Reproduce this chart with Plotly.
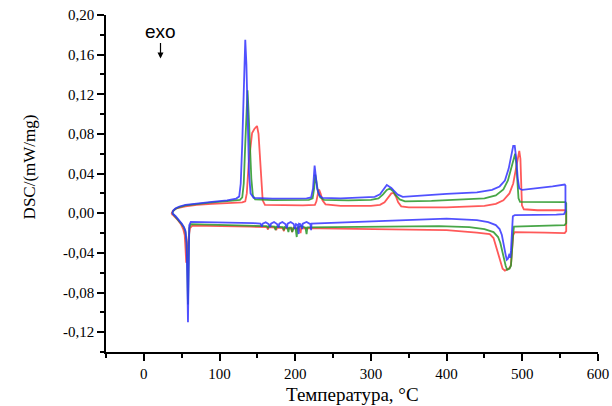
import plotly.graph_objects as go

# DSC heating/cooling loops for three samples (temperature in °C, DSC in mW/mg)
blue_t = [37.5, 39, 42, 47, 55, 70, 90, 110, 122, 126, 128, 130, 132, 134, 135.5, 137, 139, 141, 145,
          170, 200, 215, 221, 223.5, 225.6, 227, 229, 232, 236, 260, 290, 305, 312, 317, 321, 324, 327,
          330, 335, 342, 370, 400, 440, 460, 470, 477, 482, 485, 488, 490, 492, 494, 496, 500, 520, 540,
          556, 557, 557, 555, 545, 520, 490, 487.5, 486.5, 485, 484, 483, 481, 479.5, 478, 476, 473, 470,
          465, 455, 440, 400, 350, 300, 250, 224, 221.5, 221, 220, 215, 210, 209, 207, 205, 204.5, 203.5,
          201, 200, 198, 194, 190, 189, 187, 183, 179, 178, 176, 172, 168, 167, 165, 161, 157, 156, 154,
          145, 120, 90, 70, 62, 60, 59, 58.3, 57.5, 56.5, 55, 53, 50, 46, 42, 39, 37.5]
blue_dsc = [0.000, 0.003, 0.005, 0.0068, 0.0085, 0.010, 0.0115, 0.013, 0.0148, 0.017, 0.03, 0.07, 0.13,
            0.175, 0.15, 0.09, 0.04, 0.02, 0.0155, 0.0148, 0.0147, 0.015, 0.016, 0.025, 0.048, 0.038,
            0.025, 0.018, 0.0155, 0.015, 0.0155, 0.0165, 0.019, 0.025, 0.0285, 0.027, 0.0255, 0.023,
            0.019, 0.0165, 0.018, 0.0195, 0.021, 0.0235, 0.027, 0.033, 0.045, 0.058, 0.068, 0.068, 0.055,
            0.035, 0.025, 0.0235, 0.025, 0.027, 0.029, 0.028, 0.002, -0.001, -0.0015, -0.002, -0.002,
            -0.003, -0.02, -0.038, -0.045, -0.041, -0.046, -0.047, -0.042, -0.033, -0.022, -0.016, -0.012,
            -0.009, -0.007, -0.0055, -0.0068, -0.0088, -0.0098, -0.0105, -0.0105, -0.017, -0.011, -0.0088,
            -0.0105, -0.016, -0.011, -0.0105, -0.021, -0.012, -0.011, -0.016, -0.011, -0.0088, -0.0105,
            -0.015, -0.011, -0.0088, -0.0105, -0.0145, -0.011, -0.0088, -0.0105, -0.014, -0.011, -0.009,
            -0.0105, -0.0135, -0.0105, -0.010, -0.0095, -0.009, -0.0088, -0.0088, -0.012, -0.06, -0.11,
            -0.07, -0.03, -0.018, -0.014, -0.0105, -0.0065, -0.003, -0.001, 0.000]

green_t = [37.5, 39, 42, 47, 55, 70, 90, 110, 127, 130, 132, 134, 135.5, 137, 138.5, 140, 142, 144, 147,
           170, 200, 218, 223, 225, 226.5, 228, 230, 233, 238, 270, 300, 310, 316, 321, 325, 329, 333, 338,
           345, 380, 420, 450, 465, 475, 481, 485, 488, 490.5, 492, 493.5, 495, 497, 520, 557, 558, 558,
           556, 530, 500, 489, 488, 486.5, 485, 483, 480, 478, 475, 471, 468, 462, 450, 430, 390, 300, 230,
           216, 215, 213.5, 208, 203, 202, 200.5, 198, 196, 194.5, 192, 191, 189.5, 186, 185, 183.5, 175,
           174, 172.5, 165, 164, 162.5, 140, 100, 70, 62, 60, 59, 58.3, 57.5, 56.5, 55, 53, 50, 46, 42, 39,
           37.5]
green_dsc = [0.000, 0.0025, 0.0045, 0.0062, 0.008, 0.0095, 0.011, 0.0122, 0.0135, 0.016, 0.03, 0.07,
             0.105, 0.124, 0.10, 0.07, 0.035, 0.018, 0.014, 0.0132, 0.013, 0.0135, 0.015, 0.025, 0.039,
             0.032, 0.022, 0.016, 0.0135, 0.013, 0.0135, 0.015, 0.019, 0.0235, 0.025, 0.0225, 0.018, 0.014,
             0.012, 0.0125, 0.0135, 0.015, 0.018, 0.024, 0.033, 0.045, 0.055, 0.060, 0.05, 0.03, 0.015,
             0.0115, 0.0113, 0.0113, 0.010, -0.010, -0.012, -0.0128, -0.013, -0.0135, -0.02, -0.04, -0.053,
             -0.056, -0.057, -0.053, -0.042, -0.03, -0.024, -0.019, -0.016, -0.014, -0.013, -0.0138,
             -0.0143, -0.0143, -0.021, -0.0145, -0.013, -0.0145, -0.024, -0.0155, -0.0145, -0.019, -0.0145,
             -0.0145, -0.019, -0.0145, -0.014, -0.017, -0.014, -0.0135, -0.017, -0.0135, -0.013, -0.015,
             -0.013, -0.0125, -0.012, -0.011, -0.011, -0.015, -0.05, -0.092, -0.06, -0.03, -0.019, -0.0145,
             -0.011, -0.007, -0.0035, -0.0012, 0.000]

red_t = [36.5, 38, 41, 46, 55, 70, 90, 110, 130, 134, 136, 138.5, 141, 143, 146, 149.5, 151.5, 153, 155,
         157, 160, 180, 210, 226, 228, 230, 231.5, 233.5, 236, 240, 260, 300, 312, 318, 323, 327, 330, 333,
         336, 340, 350, 400, 450, 465, 475, 483, 488, 491, 494, 496, 497.5, 498.5, 499.5, 502, 520, 557,
         558, 558, 556, 530, 500, 490, 488, 486.5, 485, 483.5, 480, 477, 474, 471, 468, 465, 462, 457, 440,
         400, 300, 230, 208, 207, 205.5, 197, 196, 194.5, 186, 185, 183.5, 176, 175, 173.5, 165, 164, 162.5,
         140, 100, 75, 64, 61, 59, 57.5, 56, 55, 54, 52, 49, 45, 41, 38, 36.5]
red_dsc = [-0.001, 0.002, 0.004, 0.0055, 0.007, 0.0085, 0.0095, 0.0105, 0.011, 0.012, 0.02, 0.05, 0.072,
           0.081, 0.085, 0.088, 0.08, 0.06, 0.03, 0.013, 0.0085, 0.008, 0.008, 0.0085, 0.012, 0.02, 0.024,
           0.02, 0.013, 0.009, 0.0075, 0.0075, 0.0085, 0.011, 0.016, 0.020, 0.0205, 0.017, 0.011, 0.007,
           0.006, 0.006, 0.0075, 0.0095, 0.013, 0.02, 0.03, 0.043, 0.058, 0.063, 0.055, 0.03, 0.008, 0.004,
           0.003, 0.003, 0.002, -0.018, -0.020, -0.0195, -0.019, -0.019, -0.022, -0.04, -0.052, -0.055,
           -0.057, -0.058, -0.056, -0.048, -0.04, -0.032, -0.025, -0.021, -0.0195, -0.017, -0.016, -0.015,
           -0.015, -0.02, -0.0155, -0.015, -0.019, -0.0155, -0.015, -0.018, -0.015, -0.0145, -0.017,
           -0.0145, -0.014, -0.0165, -0.014, -0.0135, -0.013, -0.0125, -0.0125, -0.015, -0.025, -0.04,
           -0.05, -0.035, -0.022, -0.016, -0.011, -0.007, -0.0035, -0.0015, -0.001]

y_ticks = [-0.12, -0.08, -0.04, 0.00, 0.04, 0.08, 0.12, 0.16, 0.20]
y_labels = ["-0,12", "-0,08", "-0,04", "0,00", "0,04", "0,08", "0,12", "0,16", "0,20"]
y_minor = [-0.14, -0.10, -0.06, -0.02, 0.02, 0.06, 0.10, 0.14, 0.18]
x_ticks = [0, 100, 200, 300, 400, 500, 600]
x_minor = [-50, 50, 150, 250, 350, 450, 550]

serif = "Liberation Serif, Times New Roman, serif"

fig = go.Figure()
for t, d, col in [(red_t, red_dsc, "rgba(255,60,60,0.85)"),
                  (green_t, green_dsc, "rgba(40,150,40,0.85)"),
                  (blue_t, blue_dsc, "rgba(50,50,255,0.85)")]:
    fig.add_trace(go.Scatter(x=t, y=d, mode="lines", line=dict(color=col, width=1.8),
                             showlegend=False, hoverinfo="skip"))

axis_common = dict(showline=True, linecolor="black", linewidth=1.5, ticks="outside",
                   tickcolor="black", tickwidth=1.5, ticklen=7, showgrid=False, zeroline=False,
                   mirror=False, automargin=False,
                   tickfont=dict(family=serif, size=15, color="black"))

fig.update_xaxes(range=[-50, 600], tickvals=x_ticks, ticktext=[str(v) for v in x_ticks],
                 minor=dict(tickvals=x_minor, ticks="outside", ticklen=4, tickcolor="black", tickwidth=1.5),
                 **axis_common)
fig.update_yaxes(range=[-0.14, 0.20], tickvals=y_ticks, ticktext=y_labels,
                 minor=dict(tickvals=y_minor, ticks="outside", ticklen=4, tickcolor="black", tickwidth=1.5),
                 **axis_common)

# axis titles placed as text annotations in pixel-stable paper coordinates
fig.add_annotation(text="Температура, °C", xref="paper", yref="paper", x=0.5, y=-0.125,
                   showarrow=False, xanchor="center", yanchor="middle",
                   font=dict(family=serif, size=19, color="black"))
fig.add_annotation(text="DSC/(mW/mg)", xref="paper", yref="paper", x=-0.155, y=0.55,
                   textangle=-90, showarrow=False, xanchor="center", yanchor="middle",
                   font=dict(family=serif, size=17, color="black"))

# exo direction marker
fig.add_annotation(text="exo", x=22, y=0.183, showarrow=False, xanchor="center", yanchor="middle",
                   font=dict(family="Liberation Sans, Arial, sans-serif", size=19, color="black"))
fig.add_annotation(text="", x=22, y=0.156, ax=0, ay=-17, showarrow=True, arrowhead=2,
                   arrowsize=1, arrowwidth=1.2, arrowcolor="black")

fig.update_layout(width=612, height=406, margin=dict(l=106, r=14, t=15, b=54),
                  paper_bgcolor="white", plot_bgcolor="white")

fig.write_html("out.html")
